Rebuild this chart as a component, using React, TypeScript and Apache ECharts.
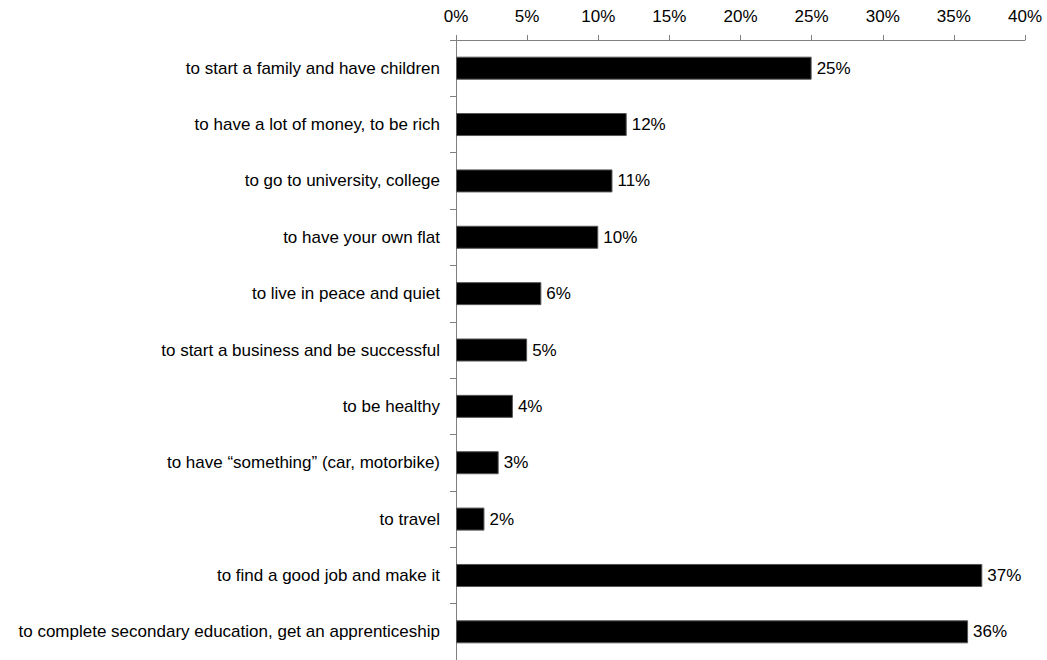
import React, { useEffect, useRef } from "react";
import * as echarts from "echarts";

const categories = [
  "to start a family and have children",
  "to have a lot of money, to be rich",
  "to go to university, college",
  "to have your own flat",
  "to live in peace and quiet",
  "to start a business and be successful",
  "to be healthy",
  "to have \u201csomething\u201d (car, motorbike)",
  "to travel",
  "to find a good job and make it",
  "to complete secondary education, get an apprenticeship",
];
const values = [25, 12, 11, 10, 6, 5, 4, 3, 2, 37, 36];
const axisMin = 0;
const axisMax = 40;
const axisStep = 5;

export default function App() {
  const ref = useRef<HTMLDivElement>(null);
  useEffect(() => {
    if (!ref.current) return;
    const chart = echarts.init(ref.current, null, { renderer: "svg" });
    const font = "'Liberation Sans', Arial, sans-serif";
    chart.setOption({
      animation: false,
      backgroundColor: "#ffffff",
      textStyle: { fontFamily: font },
      grid: { left: 456, right: 22, top: 40, bottom: -3, containLabel: false },
      xAxis: {
        type: "value",
        position: "top",
        min: axisMin,
        max: axisMax,
        interval: axisStep,
        axisLine: { show: true, lineStyle: { color: "#808080", width: 1 } },
        axisTick: { show: true, length: 5, lineStyle: { color: "#808080" } },
        splitLine: { show: false },
        axisLabel: {
          formatter: "{value}%",
          color: "#000",
          fontSize: 17,
          fontFamily: font,
          margin: 15,
        },
      },
      yAxis: {
        type: "category",
        inverse: true,
        data: categories,
        axisLine: { show: true, lineStyle: { color: "#808080", width: 1 } },
        axisTick: { show: true, length: 6, lineStyle: { color: "#808080" } },
        axisLabel: {
          color: "#000",
          fontSize: 17,
          fontFamily: font,
          margin: 16,
        },
      },
      series: [
        {
          type: "bar",
          data: values,
          barWidth: 23,
          itemStyle: { color: "#000000", borderColor: "#555", borderWidth: 1 },
          label: {
            show: true,
            position: "right",
            distance: 5,
            formatter: "{c}%",
            color: "#000",
            fontSize: 17,
            fontFamily: font,
          },
        },
      ],
    });
    return () => chart.dispose();
  }, []);
  return (
    <div
      ref={ref}
      style={{ position: "absolute", left: 0, top: 0, width: 1047, height: 660 }}
    />
  );
}
